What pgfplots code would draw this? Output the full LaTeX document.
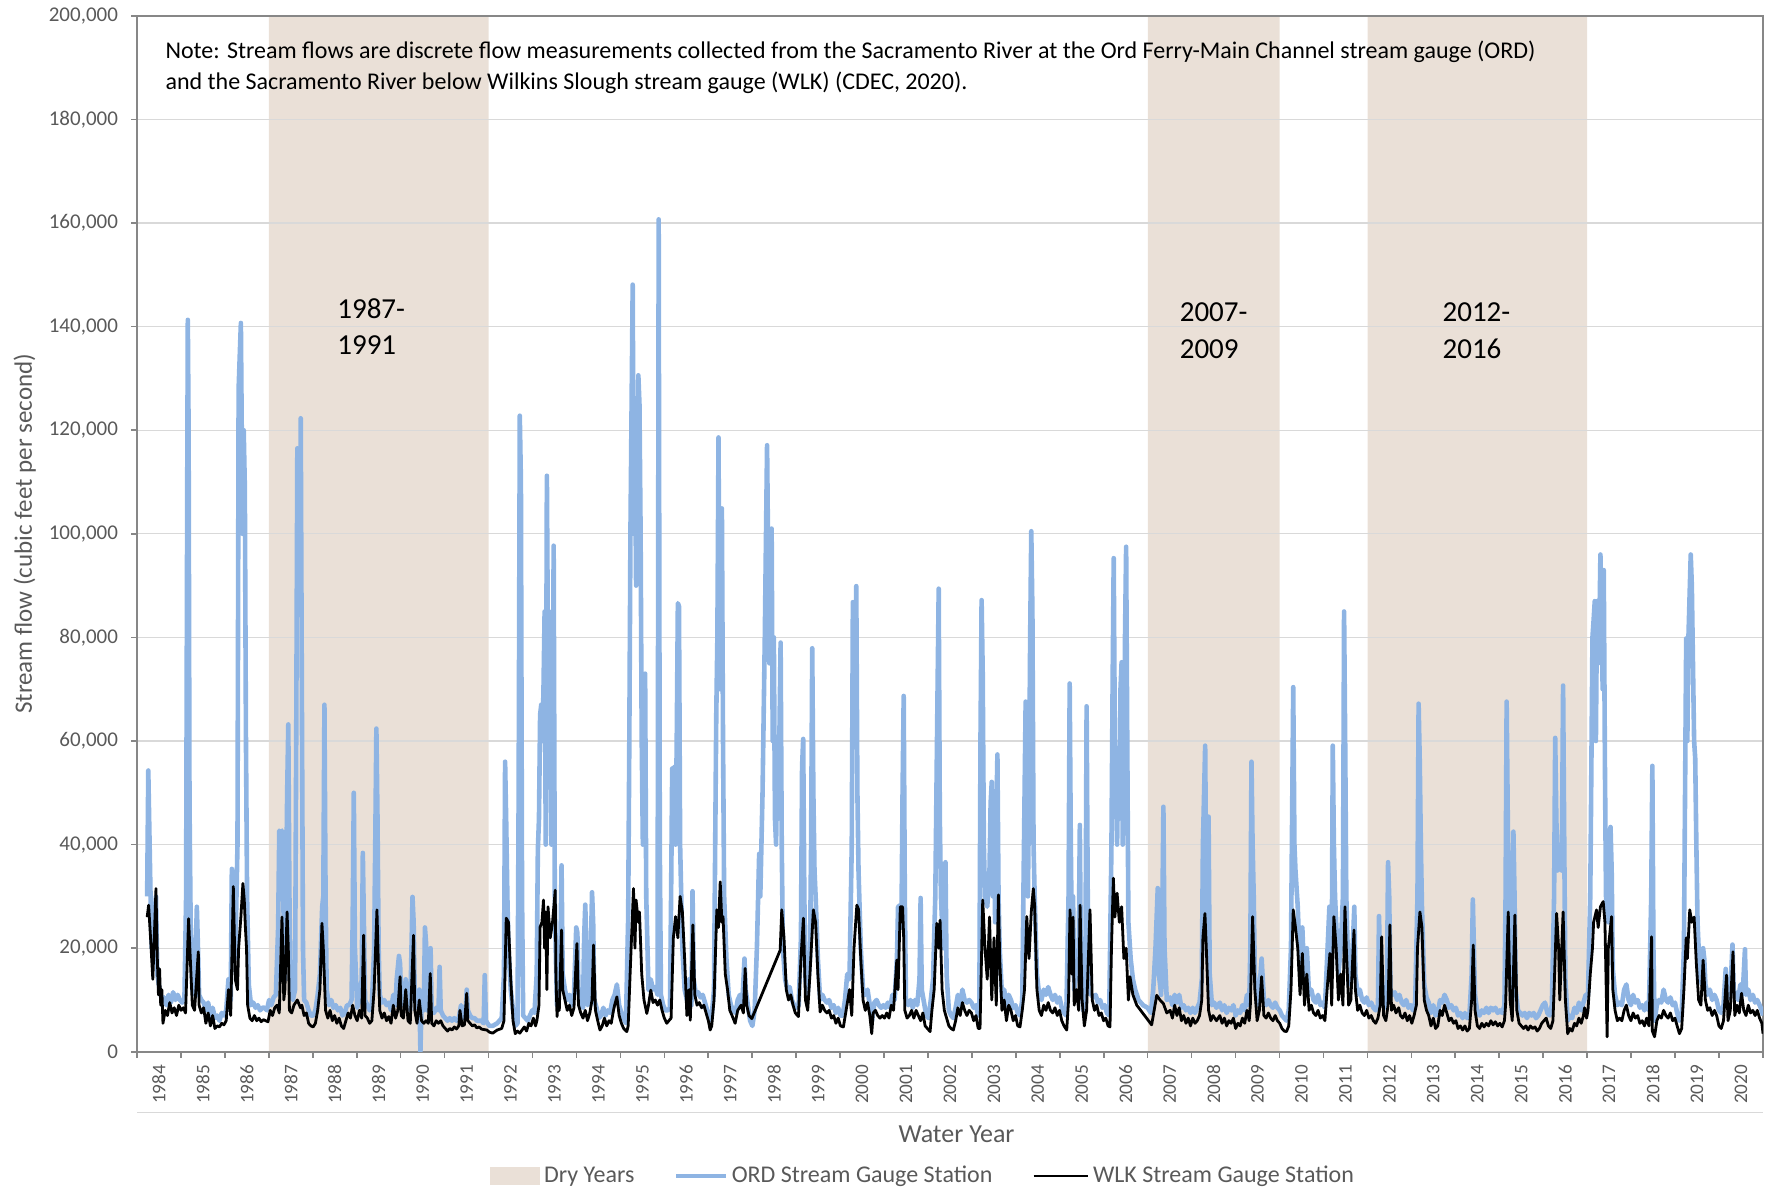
\documentclass[border=0pt]{standalone}
\usepackage{fontspec}
\setmainfont{Carlito}
\usepackage{pgfplots}
\pgfplotsset{compat=1.18}
\usepackage{pgfplotstable}
\definecolor{ordblue}{HTML}{8EB4E3}
\definecolor{dry}{HTML}{EAE0D7}
\definecolor{gridgray}{HTML}{D9D9D9}
\definecolor{axgray}{HTML}{878787}
\definecolor{txtgray}{HTML}{595959}

% pos = horizontal position read on the chart (plot spans 121..1561, 38.92 per water year)
\pgfplotstableread[row sep=\\]{pos v\\
130 30000\\ 131 54300\\ 132 42000\\ 133 30000\\ 134 20000\\ 136 25000\\ 137.8 30000\\ 139 15000\\ 141 12000\\ 143 10000\\ 145 10500\\ 147 9000\\ 149 11000\\ 151 9500\\ 153 11500\\ 155 10000\\ 157 11000\\ 159 10000\\ 161 9500\\ 163 10000\\ 164.5 30000\\ 165.5 110000\\ 166 141300\\ 166.7 120000\\ 167.5 48000\\ 168.5 25000\\ 170 12000\\ 172 11000\\ 174 28000\\ 175 20000\\ 176 11000\\ 178 10000\\ 180 9500\\ 182 8000\\ 184 9500\\ 186 7000\\ 188 8500\\ 190 6500\\ 192 7000\\ 194 6000\\ 196 7500\\ 198 7000\\ 200 8000\\ 202 14000\\ 204 10000\\ 205 35300\\ 206.3 33000\\ 208 18000\\ 210 40000\\ 211 128000\\ 213 140700\\ 214.5 100000\\ 215.5 120000\\ 216.5 109000\\ 217.5 60000\\ 218.5 30000\\ 220 13000\\ 222 9000\\ 224 9500\\ 226 8500\\ 228 9000\\ 230 8000\\ 232 8500\\ 234 8500\\ 236 8000\\ 238 10000\\ 240 9000\\ 242 10500\\ 244 11000\\ 246 24000\\ 247 42700\\ 248 42000\\ 249.4 42700\\ 250.5 30000\\ 252 14000\\ 253 30000\\ 254 50000\\ 255 63200\\ 256 30000\\ 257 12000\\ 259 10000\\ 261 12000\\ 262 60000\\ 263 116500\\ 264 90000\\ 265 100000\\ 266 122300\\ 267 70000\\ 268 20000\\ 269 10000\\ 271 9500\\ 273 8000\\ 275 7000\\ 277 7000\\ 279 8000\\ 281 11000\\ 283 15000\\ 285 28000\\ 286 30000\\ 287 67000\\ 288 30000\\ 289 12000\\ 291 9000\\ 293 10000\\ 295 8500\\ 297 9000\\ 299 8000\\ 301 8500\\ 303 7000\\ 305 7500\\ 307 9000\\ 309 9000\\ 311 10000\\ 312 25000\\ 313 50000\\ 314 20000\\ 316 8500\\ 318 10000\\ 320 14000\\ 321 38400\\ 322 24000\\ 323 10000\\ 325 9000\\ 327 8000\\ 329 9000\\ 331 20000\\ 332 40000\\ 333 62400\\ 334 45000\\ 335 20000\\ 336 11000\\ 338 9500\\ 340 10000\\ 342 9000\\ 344 9500\\ 346 8000\\ 348 11000\\ 350 9000\\ 351 14000\\ 353 18500\\ 354 17000\\ 355 10000\\ 357 9000\\ 359 14000\\ 361 9000\\ 363 8000\\ 365 29900\\ 366 25000\\ 367 11000\\ 369 8500\\ 371 12000\\ 372 0\\ 373 9000\\ 375 8000\\ 376 24000\\ 377 21000\\ 378 8000\\ 380 10000\\ 381 20000\\ 382 8000\\ 384 7500\\ 386 8500\\ 388 8000\\ 389 16400\\ 390 8000\\ 392 7000\\ 394 6500\\ 396 6000\\ 398 6500\\ 400 6000\\ 402 6500\\ 404 6000\\ 406 6500\\ 408 9000\\ 410 6500\\ 412 7000\\ 413 12000\\ 414 8000\\ 416 7000\\ 418 6500\\ 420 6500\\ 422 6000\\ 424 6000\\ 426 6000\\ 428 5500\\ 429 14800\\ 430 6000\\ 433 5000\\ 436 5000\\ 440 5500\\ 444 6500\\ 446 15000\\ 447 56000\\ 448 44000\\ 449 30000\\ 450 20000\\ 452 12000\\ 454 8000\\ 456 5000\\ 458 5500\\ 459 50000\\ 460 122800\\ 461 110000\\ 462 30000\\ 463 7000\\ 465 6500\\ 467 6000\\ 469 7000\\ 471 8000\\ 473 7500\\ 475 15000\\ 476 39000\\ 477 45000\\ 478 65000\\ 479 67000\\ 480 60000\\ 481 70000\\ 482 85000\\ 483 40000\\ 484 111200\\ 485 75000\\ 486 85000\\ 487 60000\\ 488 40000\\ 489 50000\\ 490 97700\\ 491 30000\\ 492 18000\\ 493 9000\\ 494 15000\\ 495 12000\\ 496 20000\\ 497 36000\\ 498 15000\\ 500 12000\\ 502 10000\\ 504 11000\\ 506 9000\\ 508 11000\\ 510 24000\\ 511 23000\\ 512 12000\\ 514 9000\\ 516 8500\\ 517 22000\\ 518 28400\\ 519 20000\\ 520 9000\\ 522 10000\\ 524 30800\\ 525 25000\\ 526 10000\\ 528 8500\\ 530 6500\\ 532 7000\\ 534 8500\\ 536 7000\\ 538 8000\\ 540 7500\\ 542 10000\\ 544 11000\\ 546 13000\\ 548 9000\\ 550 7500\\ 552 6500\\ 554 5500\\ 556 26000\\ 557 60000\\ 558 100000\\ 560 148100\\ 561 100000\\ 562 120000\\ 563 90000\\ 564 110000\\ 565 130600\\ 566 125000\\ 567 100000\\ 568 60000\\ 569 40000\\ 570 50000\\ 571 73000\\ 572 30000\\ 574 12000\\ 576 14000\\ 578 12000\\ 580 12500\\ 582 11000\\ 583 160700\\ 584 40000\\ 585 11000\\ 587 9000\\ 589 8000\\ 591 8000\\ 593 8500\\ 594 30000\\ 595 54700\\ 596 50000\\ 597 55000\\ 598 40000\\ 599 60000\\ 600 86600\\ 601 86000\\ 602 40000\\ 603 30000\\ 604 20000\\ 606 12000\\ 608 10000\\ 610 14000\\ 612 9000\\ 613 31000\\ 614 14000\\ 616 11000\\ 618 11500\\ 620 10500\\ 622 11000\\ 624 9500\\ 626 8000\\ 628 6000\\ 630 7000\\ 632 12000\\ 634 65000\\ 635 80000\\ 636 118600\\ 637 70000\\ 638 90000\\ 639 104900\\ 640 60000\\ 641 30000\\ 643 18000\\ 645 11000\\ 647 9000\\ 649 8000\\ 651 7500\\ 653 10000\\ 655 11000\\ 657 9000\\ 659 18000\\ 660 12000\\ 662 9000\\ 664 6000\\ 666 5000\\ 668 8000\\ 670 20000\\ 672 38200\\ 673 30000\\ 675 50000\\ 677 80000\\ 679 117100\\ 680 95000\\ 681 75000\\ 682 85000\\ 683 101000\\ 684 60000\\ 685 80000\\ 686 45000\\ 687 40000\\ 688 60000\\ 689 45000\\ 691 79000\\ 692 40000\\ 693 20000\\ 695 14000\\ 697 12000\\ 699 12500\\ 701 10000\\ 703 9000\\ 705 8500\\ 707 9000\\ 709 22000\\ 710 55000\\ 711 60400\\ 712 30000\\ 713 14000\\ 715 11000\\ 717 18000\\ 718 40000\\ 719 77900\\ 720 50000\\ 721 35000\\ 722 30000\\ 724 18000\\ 726 10000\\ 728 11000\\ 730 10000\\ 732 9500\\ 734 10000\\ 736 8500\\ 738 9000\\ 740 7500\\ 742 8500\\ 744 7000\\ 746 7000\\ 748 10000\\ 750 15000\\ 752 14000\\ 754 40000\\ 755 86800\\ 756 60000\\ 757 70000\\ 758 89900\\ 759 50000\\ 760 35000\\ 762 20000\\ 764 12000\\ 766 11000\\ 768 12000\\ 770 9000\\ 772 6000\\ 774 9500\\ 776 10000\\ 778 9000\\ 780 8500\\ 782 9000\\ 784 8500\\ 786 9500\\ 788 8500\\ 790 11000\\ 792 10000\\ 794 18000\\ 795 28000\\ 797 28300\\ 798 24000\\ 799 50000\\ 800 68700\\ 801 30000\\ 802 10000\\ 804 9000\\ 806 10000\\ 808 8500\\ 810 10000\\ 812 9000\\ 814 14000\\ 815 29700\\ 816 12000\\ 818 9500\\ 820 7000\\ 822 6500\\ 824 10000\\ 826 14000\\ 828 30000\\ 829 50000\\ 830 70000\\ 831 89400\\ 832 45000\\ 833 30000\\ 835 20000\\ 837 36600\\ 838 15000\\ 840 8000\\ 842 7000\\ 844 6500\\ 846 8500\\ 848 11000\\ 850 9000\\ 852 12000\\ 854 10000\\ 856 9500\\ 858 10000\\ 860 9500\\ 862 8500\\ 864 9000\\ 866 7000\\ 867 8000\\ 868 60000\\ 869 87200\\ 870 73000\\ 871 40000\\ 872 30000\\ 874 28000\\ 876 35000\\ 877 48000\\ 878 52100\\ 879 30000\\ 880 40000\\ 881 25000\\ 882 45000\\ 883 57400\\ 884 30000\\ 885 20000\\ 887 11000\\ 889 12000\\ 891 9000\\ 893 11000\\ 895 10000\\ 897 8500\\ 899 9000\\ 901 7500\\ 903 7000\\ 905 10000\\ 906 30000\\ 908 67600\\ 909 40000\\ 910 30000\\ 911 50000\\ 912 80000\\ 913 100500\\ 914 85000\\ 915 40000\\ 916 30000\\ 918 15000\\ 920 11000\\ 922 10000\\ 924 12000\\ 926 11000\\ 928 12500\\ 930 11000\\ 932 10000\\ 934 11000\\ 936 9500\\ 938 10500\\ 940 8500\\ 942 7500\\ 944 7000\\ 946 30000\\ 947 71100\\ 948 40000\\ 949 20000\\ 950 30000\\ 951 12000\\ 953 15000\\ 955 20000\\ 956 43800\\ 957 15000\\ 959 8000\\ 961 20000\\ 962 66700\\ 963 30000\\ 964 12000\\ 966 11000\\ 968 10500\\ 970 11000\\ 972 9500\\ 974 10000\\ 976 8500\\ 978 9000\\ 980 7500\\ 982 7000\\ 984 40000\\ 985 70000\\ 986 95300\\ 987 60000\\ 988 50000\\ 989 40000\\ 990 55000\\ 991 45000\\ 992 70000\\ 993 75200\\ 994 40000\\ 995 50000\\ 996 80000\\ 997 97500\\ 998 60000\\ 999 25000\\ 1001 18000\\ 1003 14000\\ 1005 12000\\ 1008 10000\\ 1012 9000\\ 1016 8500\\ 1019 7500\\ 1021 12000\\ 1023 20000\\ 1025 31600\\ 1026 15000\\ 1028 11000\\ 1029 25000\\ 1030 47300\\ 1031 20000\\ 1033 10000\\ 1036 10500\\ 1038 9000\\ 1040 11000\\ 1042 9500\\ 1044 11000\\ 1046 8500\\ 1048 9000\\ 1050 8000\\ 1052 8500\\ 1054 7500\\ 1056 8500\\ 1058 7500\\ 1060 8500\\ 1062 9500\\ 1064 14000\\ 1065 40000\\ 1067 59100\\ 1068 30000\\ 1069 25000\\ 1070 45400\\ 1071 15000\\ 1073 9000\\ 1075 9500\\ 1077 8500\\ 1080 9500\\ 1082 8000\\ 1084 9000\\ 1086 7500\\ 1088 8500\\ 1090 8000\\ 1092 9000\\ 1094 7000\\ 1096 8000\\ 1098 7500\\ 1100 9000\\ 1102 8000\\ 1104 11000\\ 1106 9000\\ 1107 20000\\ 1108 56000\\ 1109 40000\\ 1110 30000\\ 1111 15000\\ 1113 9000\\ 1115 12000\\ 1117 18000\\ 1119 10000\\ 1121 9000\\ 1123 10000\\ 1125 9000\\ 1127 8500\\ 1129 9500\\ 1131 8500\\ 1133 8000\\ 1135 7000\\ 1137 6500\\ 1139 6000\\ 1141 8000\\ 1143 20000\\ 1145 70400\\ 1146 40000\\ 1147 35000\\ 1149 28000\\ 1151 16000\\ 1153 24000\\ 1155 13000\\ 1157 20000\\ 1159 11000\\ 1161 12000\\ 1163 10000\\ 1165 9500\\ 1167 11000\\ 1169 9000\\ 1171 9500\\ 1173 8500\\ 1175 18000\\ 1177 28000\\ 1179 15000\\ 1180 59100\\ 1181 40000\\ 1182 30000\\ 1183 25000\\ 1185 15000\\ 1187 20000\\ 1189 30000\\ 1190 85000\\ 1191 60000\\ 1192 30000\\ 1194 13000\\ 1196 14000\\ 1198 22000\\ 1199 28000\\ 1200 15000\\ 1202 11000\\ 1204 12000\\ 1206 10000\\ 1208 9500\\ 1210 10500\\ 1212 9000\\ 1214 9500\\ 1216 8500\\ 1218 8000\\ 1220 9000\\ 1221 26200\\ 1222 15000\\ 1224 9500\\ 1226 8500\\ 1228 14000\\ 1229 36600\\ 1230 30000\\ 1231 12000\\ 1233 11000\\ 1235 11500\\ 1237 10000\\ 1239 11000\\ 1241 9500\\ 1243 9000\\ 1245 10000\\ 1247 8500\\ 1249 9000\\ 1251 8000\\ 1253 9500\\ 1255 30000\\ 1256 67200\\ 1257 56000\\ 1258 40000\\ 1259 28000\\ 1261 13000\\ 1263 10500\\ 1265 9500\\ 1267 7500\\ 1269 9000\\ 1271 7000\\ 1273 7500\\ 1275 10000\\ 1277 9500\\ 1279 11000\\ 1281 10000\\ 1283 8500\\ 1285 9000\\ 1287 8000\\ 1289 8500\\ 1291 7000\\ 1293 7500\\ 1295 6500\\ 1297 7500\\ 1299 6500\\ 1301 7000\\ 1303 15000\\ 1304 29400\\ 1305 20000\\ 1306 11000\\ 1308 7500\\ 1310 7000\\ 1312 8000\\ 1314 7500\\ 1316 8500\\ 1318 7500\\ 1320 8500\\ 1322 8000\\ 1324 8500\\ 1326 7500\\ 1328 8000\\ 1330 7500\\ 1332 9000\\ 1333 30000\\ 1334 67600\\ 1335 45000\\ 1336 28000\\ 1338 10000\\ 1339 20000\\ 1340 42500\\ 1341 30000\\ 1342 12000\\ 1344 8000\\ 1346 7500\\ 1348 7000\\ 1350 7500\\ 1352 6500\\ 1354 7500\\ 1356 7000\\ 1358 7500\\ 1360 6500\\ 1362 7000\\ 1364 8000\\ 1366 9000\\ 1368 9500\\ 1370 7500\\ 1372 7000\\ 1374 9000\\ 1376 30000\\ 1377 60600\\ 1378 45000\\ 1379 35000\\ 1380 40000\\ 1382 35000\\ 1384 70700\\ 1385 40000\\ 1386 14000\\ 1388 6000\\ 1390 7000\\ 1392 6500\\ 1394 8500\\ 1396 7500\\ 1398 9500\\ 1400 8000\\ 1402 9500\\ 1404 11000\\ 1406 11000\\ 1408 30000\\ 1410 80000\\ 1411 83300\\ 1412 87000\\ 1413 60000\\ 1414 87000\\ 1415 75000\\ 1416 80000\\ 1417 96000\\ 1418 85000\\ 1419 70000\\ 1420 93000\\ 1421 55000\\ 1422 30000\\ 1424 25000\\ 1425 30000\\ 1426 43400\\ 1427 35000\\ 1428 16000\\ 1430 11000\\ 1432 9000\\ 1434 9500\\ 1436 9000\\ 1438 12000\\ 1440 13000\\ 1442 10000\\ 1444 9000\\ 1446 11000\\ 1448 9500\\ 1450 10000\\ 1452 8500\\ 1454 9000\\ 1456 8000\\ 1458 9500\\ 1460 8000\\ 1462 30000\\ 1463 55200\\ 1464 20000\\ 1465 6000\\ 1467 9000\\ 1469 10000\\ 1471 9500\\ 1473 12000\\ 1475 10000\\ 1477 9500\\ 1479 10500\\ 1481 9000\\ 1483 9500\\ 1485 7500\\ 1487 6000\\ 1489 7000\\ 1491 20000\\ 1492 50000\\ 1493 79800\\ 1494 60000\\ 1495 80000\\ 1497 96000\\ 1498 90000\\ 1499 75000\\ 1500 60000\\ 1501 56700\\ 1502 40000\\ 1503 25000\\ 1505 15000\\ 1507 13000\\ 1508 20000\\ 1509 18000\\ 1510 13000\\ 1512 11000\\ 1514 12000\\ 1516 10000\\ 1518 11000\\ 1520 10000\\ 1522 8000\\ 1524 7500\\ 1526 9000\\ 1528 16000\\ 1529 10000\\ 1532 11000\\ 1534 20700\\ 1535 12000\\ 1537 11000\\ 1539 10000\\ 1541 13000\\ 1543 11000\\ 1545 19800\\ 1546 11000\\ 1548 12000\\ 1550 10000\\ 1552 11000\\ 1554 9500\\ 1556 10000\\ 1558 9000\\ 1560 8000\\ 1561 7000\\
}\ord

\pgfplotstableread[row sep=\\]{pos v\\
130 26000\\ 131.3 28300\\ 133 22000\\ 135 14000\\ 136 20000\\ 137.8 31500\\ 139 18000\\ 140 11000\\ 141 16000\\ 142 9000\\ 143 12000\\ 144 5500\\ 146 8000\\ 148 7000\\ 150 9500\\ 152 7500\\ 154 8500\\ 156 7000\\ 158 9000\\ 160 8000\\ 162 8500\\ 164 7500\\ 166.7 25700\\ 168 19000\\ 170 9000\\ 172 8000\\ 175.3 19300\\ 176 9000\\ 178 7500\\ 180 8500\\ 182 5500\\ 184 7500\\ 186 5000\\ 188 7000\\ 190 4500\\ 192 5000\\ 194 4800\\ 196 5500\\ 198 5200\\ 200 6000\\ 202 12000\\ 204 7000\\ 206.3 31900\\ 208 14000\\ 210 12000\\ 211 20000\\ 213 26000\\ 214.8 32500\\ 216 29300\\ 217 24000\\ 218 20000\\ 219 9000\\ 221 6500\\ 223 6000\\ 225 7000\\ 227 6000\\ 229 6500\\ 231 5800\\ 233 6200\\ 235 6000\\ 237 5800\\ 239 8000\\ 241 7000\\ 243 8500\\ 245 9000\\ 247 7500\\ 249.4 26000\\ 251 10000\\ 252 12000\\ 253.9 27000\\ 255 20000\\ 256 8000\\ 258 7500\\ 260 9000\\ 263 10000\\ 265 8500\\ 267 9000\\ 269 7000\\ 271 7500\\ 273 5500\\ 275 5000\\ 277 4800\\ 279 5500\\ 281 8000\\ 283 12000\\ 284.8 24800\\ 286 20000\\ 288 8000\\ 290 6500\\ 292 8000\\ 294 6000\\ 296 7000\\ 298 5500\\ 300 6500\\ 302 5000\\ 304 4500\\ 306 6000\\ 308 7500\\ 310 6500\\ 312 9000\\ 314 7000\\ 316 6000\\ 318 8000\\ 320 6500\\ 321.7 22500\\ 323 7000\\ 325 6500\\ 327 5500\\ 329 6000\\ 331 12000\\ 333.5 27400\\ 335 15000\\ 336 8000\\ 338 6500\\ 340 7500\\ 342 6000\\ 344 6800\\ 346 5500\\ 348 9000\\ 350 6500\\ 352 8000\\ 354 14500\\ 355 7000\\ 357 6500\\ 359 12000\\ 361 6000\\ 363 5500\\ 365.9 22500\\ 367 8000\\ 369 5500\\ 371 10000\\ 373 6000\\ 375 5500\\ 377 6000\\ 379 5500\\ 380.7 15100\\ 382 5500\\ 384 5000\\ 386 6000\\ 388 5500\\ 390 6000\\ 392 5000\\ 394 4500\\ 396 4000\\ 398 4500\\ 400 4200\\ 402 4800\\ 404 4400\\ 406 5000\\ 407 8000\\ 409 5000\\ 411 5200\\ 413 11300\\ 414 6000\\ 416 5500\\ 418 5000\\ 420 5200\\ 422 4600\\ 424 4800\\ 426 4400\\ 428 4300\\ 430.9 4200\\ 433 3800\\ 436 3600\\ 440 4200\\ 444 4500\\ 446 6000\\ 448 25800\\ 450 25000\\ 452 14000\\ 454 6000\\ 456 3500\\ 458 4000\\ 460 3600\\ 462 4200\\ 464 4800\\ 466 4000\\ 468 5500\\ 470 5000\\ 472 6500\\ 474 5000\\ 475.2 6100\\ 477 9000\\ 478 24100\\ 479.6 25000\\ 481 29300\\ 482 20000\\ 483 27000\\ 484 12000\\ 485 28000\\ 487 22000\\ 489 25000\\ 491.4 31200\\ 492 15000\\ 493 6800\\ 494 10000\\ 495 8000\\ 497 23500\\ 498 12000\\ 500 10000\\ 502 8000\\ 504 9000\\ 506 7000\\ 508 8500\\ 510.6 20900\\ 512 9000\\ 514 7500\\ 516 6500\\ 518 8000\\ 520 6000\\ 522 7500\\ 524 10000\\ 525.3 20600\\ 527 8000\\ 529 6000\\ 531 4200\\ 533 5000\\ 535 6500\\ 537 5000\\ 539 6000\\ 541 5500\\ 543 8000\\ 544 9000\\ 546 10600\\ 548 7000\\ 550 5500\\ 552 4500\\ 554.8 3900\\ 556 5000\\ 558 16700\\ 560.7 31500\\ 562 20000\\ 563 29300\\ 565 25000\\ 566 27000\\ 568 15000\\ 570 10000\\ 572.5 7400\\ 574 9000\\ 576 11900\\ 578 9500\\ 580 10000\\ 582 9000\\ 584 10000\\ 586 8000\\ 588 6500\\ 590.2 5500\\ 592 6000\\ 594 6500\\ 596 22000\\ 598 26100\\ 600 22000\\ 602 30000\\ 604 27000\\ 606 18000\\ 608 7000\\ 610 12000\\ 611 6100\\ 613.3 24500\\ 615 11000\\ 617 9000\\ 619 9500\\ 621 8500\\ 623 9000\\ 625 7500\\ 627 6000\\ 628.6 4200\\ 630 5000\\ 632 10000\\ 634.5 27400\\ 636 24000\\ 637.5 32800\\ 639 25000\\ 640 26100\\ 642 15000\\ 644 12000\\ 646 8000\\ 648 7000\\ 650.7 5500\\ 653 8000\\ 656 9000\\ 658 7500\\ 659.6 16100\\ 661 9000\\ 663 7000\\ 665.5 6400\\ 690.6 19600\\ 692 27400\\ 694 22000\\ 696 12000\\ 698 10000\\ 700 11000\\ 702 9000\\ 704 7500\\ 706.8 6800\\ 709 18000\\ 711.2 25800\\ 713 10000\\ 715 8000\\ 717 15000\\ 720 27400\\ 722 25000\\ 724 15000\\ 726 7700\\ 728 9000\\ 730 8000\\ 732 7500\\ 734 8000\\ 736 6500\\ 738 7000\\ 740 5500\\ 742 6500\\ 744 5000\\ 746.6 4800\\ 749 8000\\ 752 12000\\ 754 7000\\ 756 20000\\ 758.5 28300\\ 760 27500\\ 762 18000\\ 764 10000\\ 766 8000\\ 768 9500\\ 770 7000\\ 771.7 3500\\ 773 7500\\ 775 8000\\ 777 7000\\ 779 6500\\ 781 7000\\ 783 6500\\ 785 7500\\ 787 6500\\ 789 9000\\ 791 8000\\ 793.9 17700\\ 795 12000\\ 797 28000\\ 799 28000\\ 800 22000\\ 801 8000\\ 803 6500\\ 805 7000\\ 807 8000\\ 809 6500\\ 811 8000\\ 813 7000\\ 815 6000\\ 817 7500\\ 819 5000\\ 821 4500\\ 823.4 3900\\ 825 8000\\ 827 12000\\ 829.3 24800\\ 831 20000\\ 832.2 25400\\ 834 12000\\ 836 8000\\ 838 6500\\ 840 5000\\ 842 4500\\ 844 4200\\ 846 6000\\ 848 8500\\ 850 7000\\ 852 9500\\ 854 8000\\ 856 7000\\ 858 8000\\ 860 7500\\ 862 6000\\ 864 7000\\ 866 4500\\ 867.6 4500\\ 870 29300\\ 872 20000\\ 874 14000\\ 876 26000\\ 878 10000\\ 880 22000\\ 882 9000\\ 883.9 30300\\ 885 18000\\ 887 8000\\ 889 10000\\ 891 6000\\ 893 9000\\ 895 8000\\ 897 6000\\ 899 7000\\ 901 5000\\ 903 4800\\ 905 8000\\ 907 12000\\ 909 26100\\ 911 18000\\ 913 27000\\ 914.8 31500\\ 916 28000\\ 918 12000\\ 920 8000\\ 922 7000\\ 924 9000\\ 926 8000\\ 928 9500\\ 930 8000\\ 932 7500\\ 934 8500\\ 936 7000\\ 938 8000\\ 940 6000\\ 942 5000\\ 944.4 4200\\ 946 10000\\ 947.3 27400\\ 949 15000\\ 950 26000\\ 951 9000\\ 953 12000\\ 955 8000\\ 956.2 28300\\ 958 10000\\ 960 5000\\ 962 8000\\ 965 27400\\ 967 10000\\ 969 8000\\ 971 9000\\ 973 7000\\ 975 7500\\ 977 6000\\ 979 6500\\ 981 5000\\ 982.7 4800\\ 984 20000\\ 985.7 33500\\ 987 26000\\ 989 30600\\ 991 25000\\ 993 28000\\ 995 18000\\ 997 20000\\ 999 10000\\ 1000.4 14500\\ 1003 11000\\ 1006.4 9000\\ 1019.6 5200\\ 1024.1 10900\\ 1027 10000\\ 1030 9300\\ 1033 7500\\ 1036 8000\\ 1038 6500\\ 1040 9000\\ 1042 7000\\ 1044 8500\\ 1046 6000\\ 1048 7000\\ 1050 5500\\ 1052 6500\\ 1054 5000\\ 1056 6500\\ 1058 5500\\ 1060 6000\\ 1062 7000\\ 1064 10000\\ 1065 22000\\ 1066.8 26700\\ 1068 20000\\ 1070 8000\\ 1072 6000\\ 1074 7000\\ 1077 6000\\ 1080 7000\\ 1082 5500\\ 1084 6500\\ 1086 5000\\ 1088 6000\\ 1090 5500\\ 1092 6500\\ 1094 4500\\ 1096 5500\\ 1098 5000\\ 1100 6500\\ 1102 5500\\ 1104 8000\\ 1106 6000\\ 1107 9000\\ 1109 26100\\ 1111 12000\\ 1113 6000\\ 1115 8000\\ 1117 14500\\ 1119 7000\\ 1121 6500\\ 1123 7500\\ 1125 6500\\ 1127 6000\\ 1129 7000\\ 1131 6000\\ 1133 5500\\ 1135 4500\\ 1137 4000\\ 1139 3900\\ 1141 5000\\ 1143 12000\\ 1145 27400\\ 1147 24000\\ 1149 20000\\ 1151 11000\\ 1153 19000\\ 1155 9000\\ 1157 15000\\ 1159 8000\\ 1161 9000\\ 1163 7500\\ 1165 7000\\ 1167 8000\\ 1169 6500\\ 1171 7000\\ 1173 6000\\ 1175 12000\\ 1177.5 19000\\ 1179 9000\\ 1181 26100\\ 1183 20000\\ 1185 10000\\ 1187 15000\\ 1189 9000\\ 1190.8 28000\\ 1192 20000\\ 1194 9000\\ 1196 10000\\ 1198.8 23500\\ 1200 12000\\ 1202 8000\\ 1204 9000\\ 1206 7500\\ 1208 7000\\ 1210 8000\\ 1212 6500\\ 1214 7000\\ 1216 6000\\ 1218 5500\\ 1220 6500\\ 1222 9000\\ 1223.3 22200\\ 1225 7000\\ 1227 6000\\ 1229 9000\\ 1230.6 24500\\ 1232 8000\\ 1234 9000\\ 1236 7500\\ 1238 8500\\ 1240 7000\\ 1242 6500\\ 1244 7500\\ 1246 6000\\ 1248 7000\\ 1250 5500\\ 1252 7000\\ 1254 9000\\ 1255 20000\\ 1257.2 27000\\ 1259 24000\\ 1261 10000\\ 1263 8000\\ 1265 7000\\ 1267 5000\\ 1269 6500\\ 1271 4500\\ 1273 5000\\ 1275 8000\\ 1277 7000\\ 1279 9000\\ 1281 7500\\ 1283 6000\\ 1285 6500\\ 1287 5500\\ 1289 6000\\ 1291 4500\\ 1293 5000\\ 1295 4200\\ 1297 5000\\ 1299 4000\\ 1301 4500\\ 1303 10000\\ 1304.4 20600\\ 1306 8000\\ 1308 5000\\ 1310 4500\\ 1312 5500\\ 1314 4800\\ 1316 5500\\ 1318 5000\\ 1320 6000\\ 1322 5200\\ 1324 5800\\ 1326 5000\\ 1328 5500\\ 1330 4800\\ 1332 6000\\ 1333 9000\\ 1335.4 27000\\ 1337 10000\\ 1339 6000\\ 1341.3 26400\\ 1343 8000\\ 1345 5500\\ 1347 5000\\ 1349 4500\\ 1351 5000\\ 1353 4200\\ 1355 5000\\ 1357 4500\\ 1359 4800\\ 1361 4000\\ 1363 4500\\ 1365 5500\\ 1367 6000\\ 1369 6500\\ 1371 5000\\ 1373 4500\\ 1375 6000\\ 1376 12000\\ 1378.2 26700\\ 1380 20000\\ 1381 10000\\ 1382 20000\\ 1384 27000\\ 1386 10000\\ 1388 3500\\ 1390 4500\\ 1392 4000\\ 1394 5500\\ 1396 5000\\ 1398 6500\\ 1400 5500\\ 1402 7000\\ 1403 8500\\ 1404.8 6500\\ 1406 8000\\ 1408 15000\\ 1410 20000\\ 1411 25000\\ 1413.6 27400\\ 1415 24000\\ 1417 28000\\ 1419.5 29000\\ 1421 25000\\ 1423 2900\\ 1424 20000\\ 1426.9 26100\\ 1428 12000\\ 1430 8000\\ 1432 6000\\ 1434 6500\\ 1436 6000\\ 1438 8000\\ 1440 9000\\ 1442 7000\\ 1444 6000\\ 1446 7500\\ 1448 6500\\ 1450 7000\\ 1452 5500\\ 1454 6000\\ 1456 5000\\ 1458 6500\\ 1460 5000\\ 1462.3 22200\\ 1463 4000\\ 1465 2900\\ 1467 6000\\ 1469 7000\\ 1471 6500\\ 1473 8000\\ 1475 7000\\ 1477 6500\\ 1479 7500\\ 1481 6000\\ 1483 6500\\ 1485 5000\\ 1487 3500\\ 1489 4500\\ 1491 12000\\ 1493 22000\\ 1494 18000\\ 1496.2 27400\\ 1498 25000\\ 1500 26000\\ 1502 17000\\ 1504 10000\\ 1506 9000\\ 1508 17700\\ 1510 10000\\ 1512 8000\\ 1514 8500\\ 1516 7000\\ 1518 8000\\ 1520 7000\\ 1522 5000\\ 1524 4500\\ 1526 6000\\ 1528.7 14800\\ 1530 6000\\ 1532 8000\\ 1534.5 19300\\ 1536 7000\\ 1538 9000\\ 1540 7500\\ 1542 11300\\ 1544 8000\\ 1546 7000\\ 1548 9000\\ 1550 7500\\ 1552 8000\\ 1554 7000\\ 1556 8000\\ 1558 6500\\ 1560 5500\\ 1561 3500\\
}\wlk

\begin{document}
\begin{tikzpicture}
\begin{axis}[
  name=ax, set layers,
  width=813pt, height=518pt, scale only axis,
  xmin=1983.5, xmax=2020.5, ymin=0, ymax=200000,
  xtick={1983.5,1984.5,...,2020.5},
  x tick label as interval,
  xticklabels={1984,1985,1986,1987,1988,1989,1990,1991,1992,1993,1994,1995,1996,1997,1998,1999,2000,2001,2002,2003,2004,2005,2006,2007,2008,2009,2010,2011,2012,2013,2014,2015,2016,2017,2018,2019,2020},
  xticklabel style={rotate=90, anchor=east, font=\fontsize{9.6}{11}\selectfont, text=txtgray},
  ytick={0,20000,...,200000},
  scaled y ticks=false,
  yticklabel style={/pgf/number format/.cd, fixed, 1000 sep={,}, assume math mode=true, /tikz/.cd, font=\fontsize{10.5}{12}\selectfont, text=txtgray, xshift=-3pt},
  ymajorgrids, major grid style={gridgray, line width=0.6pt},
  axis line style={axgray, line width=0.8pt},
  tick style={axgray, line width=0.8pt},
  tick align=outside, major tick length=3pt, tick pos=left,
  xlabel={Water Year},
  xlabel style={at={(axis description cs:0.504,-0.0795)}, anchor=center, font=\fontsize{13}{15}\selectfont, text=txtgray},
  ylabel={Stream flow (cubic feet per second)},
  ylabel style={at={(axis description cs:-0.069,0.5)}, anchor=center, font=\fontsize{12.5}{15}\selectfont, text=txtgray},
  legend style={at={(axis description cs:0.484,-0.120)}, anchor=center, draw=none, fill=none,
    legend columns=3, font=\fontsize{12}{14}\selectfont, text=txtgray,
    /tikz/every even column/.append style={column sep=18pt}},
  clip mode=individual,
]
\addplot[fill=dry, draw=none, on layer=axis background,
  legend image code/.code={\fill[dry] (0pt,-4.5pt) rectangle (25pt,4.5pt);}]
  coordinates {(1986.5,0) (1986.5,200000) (1991.5,200000) (1991.5,0)} \closedcycle;
\addlegendentry{Dry Years}
\addplot[fill=dry, draw=none, on layer=axis background, forget plot]
  coordinates {(2006.5,0) (2006.5,200000) (2009.5,200000) (2009.5,0)} \closedcycle;
\addplot[fill=dry, draw=none, on layer=axis background, forget plot]
  coordinates {(2011.5,0) (2011.5,200000) (2016.5,200000) (2016.5,0)} \closedcycle;

\addplot[ordblue, line width=2.3pt, line join=round, no marks,
  legend image code/.code={\draw[ordblue, line width=1.7pt] (0pt,0pt) -- (25pt,0pt);}]
  table[x expr={1983.5+(\thisrow{pos}-121)/38.92}, y=v]{\ord};
\addlegendentry{ORD Stream Gauge Station}
\addplot[black, line width=1.4pt, line join=round, no marks,
  legend image code/.code={\draw[black, line width=1.3pt] (0pt,0pt) -- (27pt,0pt);}]
  table[x expr={1983.5+(\thisrow{pos}-121)/38.92}, y=v]{\wlk};
\addlegendentry{WLK Stream Gauge Station}

\node[anchor=base west, inner sep=0, font=\fontsize{12}{14}\selectfont] at (axis cs:1984.14,191700)
  {Note: Stream flows are discrete flow measurements collected from the Sacramento River at the Ord Ferry-Main Channel stream gauge (ORD)};
\node[anchor=base west, inner sep=0, font=\fontsize{12}{14}\selectfont] at (axis cs:1984.14,185800)
  {and the Sacramento River below Wilkins Slough stream gauge (WLK) (CDEC, 2020).};
\node[anchor=base west, inner sep=0, font=\fontsize{14.5}{17}\selectfont] at (axis cs:1988.05,141500) {1987-};
\node[anchor=base west, inner sep=0, font=\fontsize{14.5}{17}\selectfont] at (axis cs:1988.05,134600) {1991};
\node[anchor=base west, inner sep=0, font=\fontsize{14.5}{17}\selectfont] at (axis cs:2007.22,140900) {2007-};
\node[anchor=base west, inner sep=0, font=\fontsize{14.5}{17}\selectfont] at (axis cs:2007.22,133900) {2009};
\node[anchor=base west, inner sep=0, font=\fontsize{14.5}{17}\selectfont] at (axis cs:2013.20,140900) {2012-};
\node[anchor=base west, inner sep=0, font=\fontsize{14.5}{17}\selectfont] at (axis cs:2013.20,133900) {2016};
\end{axis}
\draw[gridgray, line width=0.6pt] ([yshift=-30.5pt]ax.south west) -- ([yshift=-30.5pt]ax.south east);
\pgfresetboundingbox
\path[use as bounding box] ([xshift=-68.5pt, yshift=-68.2pt]ax.south west) rectangle ([xshift=4pt, yshift=7.9pt]ax.north east);
\end{tikzpicture}
\end{document}
